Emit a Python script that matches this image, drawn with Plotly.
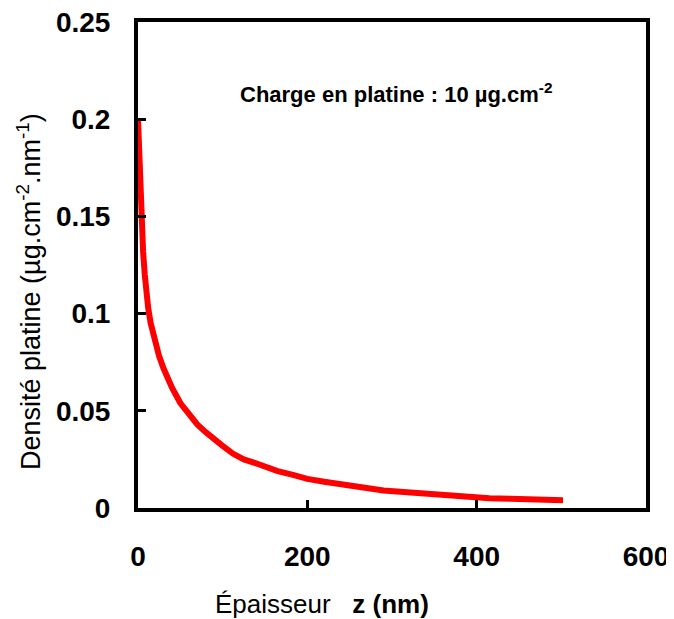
import plotly.graph_objects as go

depth_nm = [0, 1, 2, 3, 4, 5, 6, 8, 10, 12, 15, 20, 25, 30, 40, 50, 60, 70, 80, 90,
            100, 112, 125, 136, 150, 165, 183, 200, 220, 235, 250, 270, 290, 310,
            330, 350, 370, 390, 415, 440, 460, 475, 490, 502]
density = [0.2, 0.185, 0.172, 0.16, 0.15, 0.14, 0.132, 0.12, 0.11, 0.103, 0.095,
           0.085, 0.078, 0.072, 0.062, 0.054, 0.048, 0.043, 0.039, 0.035, 0.032,
           0.028, 0.025, 0.0235, 0.021, 0.019, 0.017, 0.015, 0.0135, 0.0125,
           0.0115, 0.010, 0.009, 0.0083, 0.0076, 0.007, 0.0062, 0.0058, 0.005,
           0.0047, 0.0045, 0.004, 0.004, 0.004]

x_ticks = [0, 200, 400, 600]
x_tick_labels = ["0", "200", "400", "600"]
y_ticks = [0, 0.05, 0.1, 0.15, 0.2, 0.25]
y_tick_labels = ["0", "0.05", "0.1", "0.15", "0.2", "0.25"]

font_family = "Liberation Sans, Arial, sans-serif"

# page has an 8px body margin; figure sized to fit the 674x619 window
OFF = 8
W, H = 674 - OFF, 619 - OFF
L, R, T, B = 138 - OFF, 28, 22 - OFF, 111

fig = go.Figure()
fig.add_trace(go.Scatter(x=depth_nm, y=density, mode="lines",
                         line=dict(color="#ff0000", width=6), showlegend=False))

axis_common = dict(showline=True, linecolor="black", linewidth=4, mirror=True,
                   showgrid=False, zeroline=False, ticks="inside", ticklen=8,
                   tickwidth=3, tickcolor="black", automargin=False,
                   ticklabeloverflow="allow",
                   tickfont=dict(family=font_family, size=28, color="black", weight="bold"))

def px2paper(px, py):
    px -= OFF
    py -= OFF
    return (px - L) / (W - L - R), 1 - (py - T) / (H - T - B)

ax1, ay1 = px2paper(396, 93)
ax2, ay2 = px2paper(322, 604)
ax3, ay3 = px2paper(29, 292)

fig.update_layout(
    width=W, height=H,
    margin=dict(l=L, r=R, t=T, b=B),
    paper_bgcolor="white", plot_bgcolor="white",
    xaxis=dict(range=[0, 600], tickvals=x_ticks, ticktext=x_tick_labels,
               ticklabelstandoff=20, **axis_common),
    yaxis=dict(range=[0, 0.25], tickvals=y_ticks, ticktext=y_tick_labels,
               ticklabelstandoff=18, **axis_common),
    annotations=[
        dict(text="Charge en platine : 10 µg.cm<sup>-2</sup>", x=ax1, y=ay1,
             xref="paper", yref="paper", showarrow=False,
             xanchor="center", yanchor="middle",
             font=dict(family=font_family, size=22, color="black", weight="bold")),
        dict(text="Épaisseur\u00a0\u00a0\u00a0<b>z (nm)</b>", x=ax2, y=ay2,
             xref="paper", yref="paper", showarrow=False,
             xanchor="center", yanchor="middle",
             font=dict(family=font_family, size=26, color="black")),
        dict(text="Densité platine (µg.cm<sup>-2</sup>.nm<sup>-1</sup>)", x=ax3, y=ay3,
             xref="paper", yref="paper", showarrow=False, textangle=-90,
             xanchor="center", yanchor="middle",
             font=dict(family=font_family, size=27, color="black")),
    ],
)

fig.write_html("out.html")
